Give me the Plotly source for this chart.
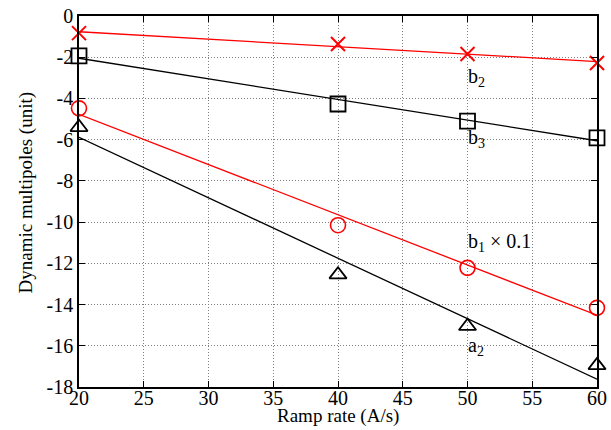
import numpy as np
import plotly.graph_objects as go

# Ramp rates (A/s)
ramp_rate = [20, 40, 50, 60]

# Measured dynamic multipoles (unit)
b2 = [-0.83, -1.36, -1.84, -2.28]
b3 = [-1.93, -4.27, -5.10, -5.91]
b1_scaled = [-4.48, -10.15, -12.22, -14.16]   # b1 x 0.1
a2 = [-5.40, -12.55, -15.05, -16.95]

x_ticks = [20, 25, 30, 35, 40, 45, 50, 55, 60]
y_ticks = [0, -2, -4, -6, -8, -10, -12, -14, -16, -18]

RED = "#ff0000"
BLACK = "#000000"
SERIF = "Liberation Serif, Times New Roman, serif"

series = [
    (b2, RED, "x-thin-open", 14, 2.0),
    (b3, BLACK, "square-open", 15, 1.8),
    (b1_scaled, RED, "circle-open", 15, 1.6),
    (a2, BLACK, "triangle-up-open", 15, 1.8),
]

fig = go.Figure()
x_fit = np.array([min(ramp_rate), max(ramp_rate)], dtype=float)
for values, color, symbol, size, mlw in series:
    # least-squares straight line through the measurements
    slope, intercept = np.polyfit(ramp_rate, values, 1)
    fig.add_trace(go.Scatter(
        x=x_fit, y=slope * x_fit + intercept, mode="lines",
        line=dict(color=color, width=1.3), showlegend=False, hoverinfo="skip",
    ))
    fig.add_trace(go.Scatter(
        x=ramp_rate, y=values, mode="markers",
        marker=dict(symbol=symbol, size=size, color=color,
                    line=dict(color=color, width=mlw)),
        showlegend=False, cliponaxis=False,
    ))

labels = [
    (50, -3.0, "b<sub>2</sub>"),
    (50, -5.95, "b<sub>3</sub>"),
    (50, -11.0, "b<sub>1</sub> × 0.1"),
    (50, -16.05, "a<sub>2</sub>"),
]
for lx, ly, txt in labels:
    fig.add_annotation(x=lx, y=ly, text=txt, showarrow=False,
                       xanchor="left", yanchor="middle", xshift=-2,
                       font=dict(family=SERIF, size=20, color=BLACK))

# axis titles, placed in paper coordinates
title_font = dict(family=SERIF, size=19, color=BLACK)
fig.add_annotation(x=0.5, y=0, xref="paper", yref="paper", text="Ramp rate (A/s)",
                   showarrow=False, xanchor="center", yanchor="middle", yshift=-29,
                   font=title_font)
fig.add_annotation(x=0, y=0.5, xref="paper", yref="paper", text="Dynamic multipoles (unit)",
                   showarrow=False, xanchor="center", yanchor="middle", textangle=-90,
                   xshift=-54, yshift=9, font=title_font)

axis_common = dict(
    showline=True, linecolor=BLACK, linewidth=1.5, mirror="ticks",
    ticks="inside", ticklen=6, tickwidth=1, tickcolor=BLACK,
    showgrid=True, gridcolor="#808080", gridwidth=1, griddash="1px,2px",
    zeroline=False, automargin=False,
    tickfont=dict(family=SERIF, size=20, color=BLACK),
)

fig.update_xaxes(
    range=[20, 60], tickvals=x_ticks, ticktext=[str(v) for v in x_ticks],
    ticklabelstandoff=-8,
    **axis_common,
)
fig.update_yaxes(
    range=[-18, 0], tickvals=y_ticks, ticktext=[str(v) for v in y_ticks],
    **axis_common,
)

fig.update_layout(
    width=611, height=430,
    margin=dict(l=79, r=14, t=16, b=43),
    paper_bgcolor="white", plot_bgcolor="white",
    showlegend=False,
)

fig.write_html("out.html")
